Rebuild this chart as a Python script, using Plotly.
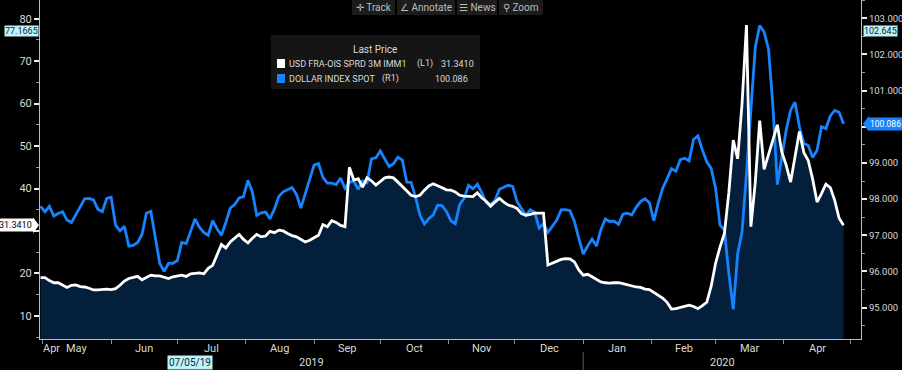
import pandas as pd
import plotly.graph_objects as go

# ---------------- data ----------------
dates = pd.date_range("2019-04-30", periods=183, freq="2D")

fra_ois = [19.0, 19.0, 18.3, 17.8, 17.8, 17.2, 16.7, 17.2, 17.3, 16.9,
           16.8, 16.5, 16.1, 16.1, 16.2, 16.3, 16.2, 16.4, 17.2, 18.2,
           18.8, 19.0, 19.3, 18.5, 19.0, 19.6, 19.4, 19.4, 19.1, 18.8,
           19.2, 19.4, 19.6, 19.3, 19.9, 20.0, 20.1, 19.9, 21.2, 21.9,
           24.5, 26.8, 26.0, 27.4, 28.3, 29.2, 28.0, 27.2, 28.3, 29.2,
           28.6, 28.8, 29.9, 29.6, 30.2, 30.0, 29.4, 28.9, 28.6, 28.0,
           27.4, 27.8, 28.4, 29.0, 31.5, 31.0, 32.4, 32.0, 31.3, 31.0,
           45.0, 42.0, 42.3, 40.3, 42.5, 41.8, 40.8, 41.6, 42.5, 42.7,
           42.5, 41.5, 40.5, 39.6, 38.4, 38.1, 38.4, 39.6, 40.6, 41.1,
           40.7, 40.2, 39.7, 39.6, 39.2, 38.4, 38.2, 38.1, 38.1, 39.0,
           37.8, 37.0, 35.8, 36.8, 37.7, 36.8, 36.1, 35.8, 35.3, 34.1,
           33.7, 33.9, 34.2, 34.2, 34.2, 22.0, 22.4, 22.8, 23.3, 23.5,
           23.4, 22.7, 20.8, 19.6, 19.8, 19.2, 18.5, 18.0, 17.8, 17.7,
           17.8, 17.8, 17.6, 17.3, 17.0, 16.8, 16.7, 16.3, 16.2, 15.5,
           15.0, 14.2, 13.2, 11.6, 11.7, 12.0, 12.2, 12.5, 12.2, 11.7,
           12.4, 13.2, 17.0, 22.4, 26.2, 29.4, 39.0, 51.4, 47.0, 60.0,
           78.5, 31.0, 41.5, 56.0, 44.5, 48.0, 51.3, 55.0, 48.6, 45.5,
           41.5, 47.0, 53.4, 48.5, 46.6, 42.2, 36.8, 38.8, 41.0, 40.2,
           37.2, 33.0, 31.341]

dxy = [97.80, 97.65, 97.80, 97.53, 97.60, 97.65, 97.42, 97.35, 97.57, 97.80,
       98.01, 98.02, 97.98, 97.72, 97.65, 98.02, 98.05, 97.28, 97.12, 97.25,
       96.70, 96.72, 96.80, 97.03, 97.61, 97.66, 96.95, 96.23, 96.00, 96.22,
       96.22, 96.30, 96.80, 96.77, 97.10, 97.45, 97.22, 97.08, 97.00, 97.40,
       97.18, 97.00, 97.35, 97.75, 97.85, 98.03, 98.07, 98.52, 98.20, 97.55,
       97.62, 97.64, 97.46, 97.72, 98.07, 98.20, 98.26, 98.32, 98.13, 97.75,
       98.15, 98.58, 98.94, 98.98, 98.60, 98.44, 98.44, 98.40, 98.58, 98.30,
       98.46, 98.50, 98.27, 98.50, 98.45, 99.11, 99.14, 99.33, 99.10, 98.90,
       98.98, 99.16, 99.08, 98.47, 98.46, 98.05, 97.55, 97.31, 97.46, 97.56,
       97.83, 97.82, 97.66, 97.40, 97.32, 97.85, 98.02, 98.38, 98.28, 98.41,
       98.18, 97.90, 97.86, 97.96, 98.27, 98.33, 98.38, 98.35, 97.93, 97.74,
       97.55, 97.70, 97.63, 97.20, 97.32, 97.08, 97.24, 97.42, 97.70, 97.71,
       97.68, 97.38, 96.91, 96.48, 96.70, 96.89, 96.70, 97.15, 97.45, 97.38,
       97.39, 97.30, 97.58, 97.61, 97.56, 97.77, 97.93, 98.01, 97.90, 97.40,
       97.89, 98.30, 98.56, 98.84, 98.77, 99.09, 99.13, 99.06, 99.65, 99.75,
       99.36, 99.03, 98.85, 98.30, 97.28, 97.15, 95.95, 94.95, 96.48, 97.10,
       98.70, 100.50, 102.20, 102.80, 102.62, 102.15, 100.55, 98.40, 99.22, 99.90,
       100.46, 100.68, 100.00, 99.54, 99.48, 99.15, 99.35, 100.00, 99.95, 100.30,
       100.45, 100.40, 100.086]

series_names = ["USD FRA-OIS SPRD 3M IMM1", "DOLLAR INDEX SPOT"]
series_tags = ["(L1)", "(R1)"]
last_labels = ["31.3410", "100.086"]
cursor_left = 77.1665
cursor_right = 102.645
cursor_date_label = "07/05/19"

# axis tick values / labels (labels hidden where the last-value tags cover them)
left_ticks = [10, 20, 30, 40, 50, 60, 70, 80]
left_ticktext = ["10", "20", "", "40", "50", "60", "70", "80"]
right_ticks = [95, 96, 97, 98, 99, 100, 101, 102, 103]
right_ticktext = ["95.000", "96.000", "97.000", "98.000", "99.000", "",
                  "101.000", "102.000", "103.000"]

month_ticks = pd.date_range("2019-05-01", "2020-05-01", freq="MS")
month_names = ["May", "Jun", "Jul", "Aug", "Sep", "Oct", "Nov", "Dec",
               "Jan", "Feb", "Mar", "Apr"]
first_label = "Apr"
year_labels = ["2019", "2020"]
year_starts = ["2019-04-29 18:00", "2020-01-01"]
year_ends = ["2020-01-01", "2020-05-05 22:00"]

# ---------------- style ----------------
BG = "#000000"
NAVY = "#041f3c"
BLUE = "#1683ff"
WHITE = "#ffffff"
TXT = "#d9d9d9"
CYAN_BG = "#bff3fb"
FONT = "Roboto, Liberation Sans, Arial"
FS = 10

X0, X1 = "2019-04-29 18:00", "2020-05-05 22:00"
L_RANGE = [4.55, 84.4]
R_RANGE = [94.13, 103.506]

fig = go.Figure()
fig.add_trace(go.Scatter(x=dates, y=fra_ois, mode="lines", line=dict(width=0),
                         fill="tozeroy", fillcolor=NAVY, yaxis="y",
                         hoverinfo="skip", showlegend=False))
fig.add_trace(go.Scatter(x=dates, y=dxy, mode="lines", name=series_names[1],
                         line=dict(color=BLUE, width=2.8), yaxis="y2",
                         showlegend=False))
fig.add_trace(go.Scatter(x=dates, y=fra_ois, mode="lines", name=series_names[0],
                         line=dict(color=WHITE, width=2.8), yaxis="y3",
                         showlegend=False))

axis_line = "#bdbdbd"
fig.update_layout(
    width=902, height=370,
    margin=dict(l=40, r=41, t=0, b=31, autoexpand=False),
    paper_bgcolor=BG, plot_bgcolor=BG,
    font=dict(family=FONT, color=TXT, size=FS),
    xaxis=dict(range=[X0, X1], showgrid=False, zeroline=False, automargin=False,
               tickvals=month_ticks, showticklabels=False,
               ticks="outside", ticklen=4, tickwidth=1, tickcolor="#8a8a8a",
               showline=True, linecolor=axis_line, linewidth=1),
    yaxis=dict(range=L_RANGE, side="left", showgrid=False, zeroline=False,
               automargin=False,
               tickvals=left_ticks, ticktext=left_ticktext,
               ticks="outside", ticklen=5, tickwidth=2, tickcolor="#eeeeee",
               minor=dict(tick0=5, dtick=5, ticks="outside", ticklen=3,
                          tickcolor="#9a9a9a", tickwidth=1),
               showline=True, linecolor=axis_line, linewidth=1,
               tickfont=dict(size=FS + 1, color=TXT, family=FONT)),
    yaxis2=dict(range=R_RANGE, side="right", overlaying="y", showgrid=False,
                zeroline=False, automargin=False,
                tickvals=right_ticks, ticktext=right_ticktext,
                ticks="outside", ticklen=5, tickwidth=2, tickcolor="#eeeeee",
                minor=dict(tick0=94.5, dtick=0.5, ticks="outside", ticklen=3,
                           tickcolor="#9a9a9a", tickwidth=1),
                showline=True, linecolor=axis_line, linewidth=1,
                tickfont=dict(size=FS - 0.5, color=TXT, family=FONT)),
    yaxis3=dict(range=L_RANGE, overlaying="y", visible=False, automargin=False),
)

ann = []
shapes = []

def px_x(px):
    return (px - 40) / 821.0

def px_y(py):
    return (339 - py) / 339.0

# month labels (centered in their month), partial April at left edge
for i, name in enumerate(month_names):
    mid = month_ticks[i] + (month_ticks[i + 1] - month_ticks[i]) / 2
    ann.append(dict(x=mid, xref="x", y=px_y(348), yref="paper", text=name,
                    showarrow=False, font=dict(size=FS + 1, color=TXT),
                    xanchor="center", yanchor="middle"))
ann.append(dict(x=X0, xref="x", y=px_y(348), yref="paper", text=first_label,
                showarrow=False, font=dict(size=FS + 1, color=TXT),
                xanchor="left", yanchor="middle", xshift=1))
# year labels
for lab, s, e in zip(year_labels, year_starts, year_ends):
    mid = pd.Timestamp(s) + (pd.Timestamp(e) - pd.Timestamp(s)) / 2
    ann.append(dict(x=mid, xref="x", y=px_y(362), yref="paper", text=lab,
                    showarrow=False, font=dict(size=FS + 1, color=TXT),
                    xanchor="center", yanchor="middle"))
shapes.append(dict(type="line", xref="x", yref="paper",
                   x0=year_starts[1], x1=year_starts[1],
                   y0=px_y(352), y1=px_y(370), line=dict(color="#5a5a5a", width=1)))

# cursor (crosshair) labels
ann.append(dict(x=px_x(190), xref="paper", y=px_y(362), yref="paper",
                text=cursor_date_label, showarrow=False,
                font=dict(size=FS, color="#0d2a33"), bgcolor=CYAN_BG,
                borderpad=1, xanchor="center", yanchor="middle"))
ann.append(dict(x=px_x(39), xref="paper", y=cursor_left, yref="y",
                text=f"{cursor_left:.4f}", showarrow=False,
                font=dict(size=FS - 1, color="#0d2a33"), bgcolor=CYAN_BG,
                borderpad=0, xanchor="right", yanchor="middle"))
ann.append(dict(x=px_x(863), xref="paper", y=cursor_right, yref="y2",
                text=f"{cursor_right:.3f}", showarrow=False,
                font=dict(size=FS - 1, color="#0d2a33"), bgcolor=CYAN_BG,
                borderpad=0, xanchor="left", yanchor="middle"))

# last value tags
ann.append(dict(x=px_x(34), xref="paper", y=fra_ois[-1], yref="y",
                text=last_labels[0], showarrow=False,
                font=dict(size=FS - 1, color="#000000"), bgcolor="#ffffff",
                borderpad=1, xanchor="right", yanchor="middle"))
shapes.append(dict(type="path", xref="paper", yref="y",
                   path=f"M {px_x(33)} {fra_ois[-1] + 1.9} L {px_x(39)} {fra_ois[-1]} "
                        f"L {px_x(33)} {fra_ois[-1] - 1.9} Z",
                   fillcolor="#ffffff", line=dict(width=0)))
ann.append(dict(x=px_x(868), xref="paper", y=dxy[-1], yref="y2",
                text=last_labels[1], showarrow=False,
                font=dict(size=FS - 1.5, color="#ffffff"), bgcolor=BLUE,
                borderpad=1, xanchor="left", yanchor="middle"))
shapes.append(dict(type="path", xref="paper", yref="y2",
                   path=f"M {px_x(869)} {dxy[-1] + 0.22} L {px_x(863)} {dxy[-1]} "
                        f"L {px_x(869)} {dxy[-1] - 0.22} Z",
                   fillcolor=BLUE, line=dict(width=0)))

# legend box
shapes.append(dict(type="rect", xref="paper", yref="paper",
                   x0=px_x(271), x1=px_x(480), y0=px_y(89), y1=px_y(35),
                   fillcolor="#151515", line=dict(width=0), layer="above"))
ann.append(dict(x=px_x(375), xref="paper", y=px_y(49), yref="paper",
                text="Last Price", showarrow=False, font=dict(size=FS, color=TXT),
                xanchor="center", yanchor="middle"))
row_y = [63.5, 78.5]
row_col = [WHITE, BLUE]
tag_x = [415, 380]
val_x = [476, 470]
for i in range(2):
    shapes.append(dict(type="rect", xref="paper", yref="paper",
                       x0=px_x(277), x1=px_x(285), y0=px_y(row_y[i] + 4.5),
                       y1=px_y(row_y[i] - 4.5), fillcolor=row_col[i],
                       line=dict(width=0), layer="above"))
    ann.append(dict(x=px_x(287), xref="paper", y=px_y(row_y[i]), yref="paper",
                    text=series_names[i], showarrow=False,
                    font=dict(size=FS - 1, color=TXT), xanchor="left", yanchor="middle"))
    ann.append(dict(x=px_x(tag_x[i]), xref="paper", y=px_y(row_y[i]), yref="paper",
                    text=series_tags[i], showarrow=False,
                    font=dict(size=FS - 1, color=TXT), xanchor="left", yanchor="middle"))
    ann.append(dict(x=px_x(val_x[i]), xref="paper", y=px_y(row_y[i]), yref="paper",
                    text=last_labels[i], showarrow=False,
                    font=dict(size=FS - 1, color=TXT), xanchor="right", yanchor="middle"))

# toolbar
tools = ["\u271b Track", "\u2220 Annotate", "\u2630 News", "\u26b2 Zoom"]
tool_x = [(352, 395), (397, 455), (457, 497), (499, 543)]
for t, (a, b) in zip(tools, tool_x):
    shapes.append(dict(type="rect", xref="paper", yref="paper",
                       x0=px_x(a), x1=px_x(b), y0=px_y(15), y1=px_y(0),
                       fillcolor="#1c1c1c", line=dict(width=0), layer="above"))
    ann.append(dict(x=px_x((a + b) / 2), xref="paper", y=px_y(7.5), yref="paper",
                    text=t, showarrow=False, font=dict(size=FS, color="#bdbdbd"),
                    xanchor="center", yanchor="middle"))

fig.update_layout(annotations=ann, shapes=shapes)
fig.write_html("out.html",
               config={"displayModeBar": False},
               post_script="document.body.style.margin='0';"
                           "document.body.style.background='#000';")
